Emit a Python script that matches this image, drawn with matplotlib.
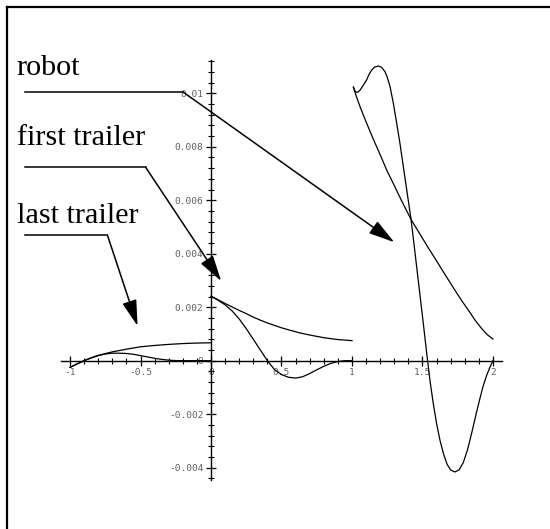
import matplotlib
matplotlib.use("Agg")
import matplotlib.pyplot as plt
from matplotlib.lines import Line2D

# deviation curves for each body of the vehicle (s on x, offset on y)
robot_x_a = [1.010, 1.020, 1.030, 1.042, 1.057, 1.080, 1.104, 1.120, 1.140, 1.160, 1.187,
             1.210, 1.234, 1.250, 1.270, 1.293, 1.317, 1.340, 1.364, 1.390, 1.419,
             1.450, 1.480, 1.506, 1.536, 1.555, 1.577, 1.600, 1.625, 1.650, 1.675,
             1.700, 1.730, 1.760, 1.790, 1.820, 1.850, 1.880, 1.908, 1.930, 1.955,
             1.980, 2.000]
robot_y_a = [0.01023, 0.01010, 0.01004, 0.01004, 0.01012, 0.01030, 0.01050, 0.01070, 0.01087, 0.01098, 0.01102,
             0.01097, 0.01081, 0.01060, 0.01025, 0.00963, 0.00888, 0.00813, 0.00726, 0.00632, 0.00528,
             0.00390, 0.00255, 0.00138, 0.00000, -0.00082, -0.00162, -0.00235, -0.00300, -0.00350, -0.00388,
             -0.00409, -0.00416, -0.00408, -0.00380, -0.00332, -0.00268, -0.00200, -0.00140, -0.00095, -0.00055,
             -0.00022, 0.00000]

robot_x_b = [1.010, 1.030, 1.057, 1.100, 1.150, 1.200, 1.246, 1.300, 1.350, 1.419,
             1.480, 1.540, 1.600, 1.660, 1.720, 1.780, 1.840, 1.872, 1.920, 1.960, 2.000]
robot_y_b = [0.01023, 0.00990, 0.00950, 0.00893, 0.00830, 0.00770, 0.00713, 0.00655, 0.00600, 0.00528,
             0.00475, 0.00423, 0.00373, 0.00322, 0.00272, 0.00223, 0.00178, 0.00152, 0.00120, 0.00097, 0.00081]

first_x_a = [0.0, 0.05, 0.10, 0.15, 0.20, 0.25, 0.30, 0.348, 0.40, 0.45,
             0.50, 0.56, 0.63, 0.70, 0.80, 0.90, 1.0]
first_y_a = [0.00241, 0.00228, 0.00214, 0.00201, 0.00188, 0.00176, 0.00163, 0.00152, 0.00141, 0.00132,
             0.00123, 0.00114, 0.00104, 0.00096, 0.00086, 0.00079, 0.00075]

first_x_b = [0.0, 0.05, 0.10, 0.15, 0.20, 0.25, 0.30, 0.35, 0.40, 0.45, 0.50,
             0.55, 0.60, 0.65, 0.70, 0.75, 0.80, 0.85, 0.90, 0.95, 1.0]
first_y_b = [0.00241, 0.00226, 0.00209, 0.00186, 0.00156, 0.00120, 0.00080, 0.00040, 0.00000, -0.00033, -0.00052,
             -0.00062, -0.00065, -0.00060, -0.00048, -0.00034, -0.00021, -0.00010, -0.00003, 0.00000, 0.00000]

last_x_a = [-1.0, -0.95, -0.90, -0.85, -0.80, -0.74, -0.70, -0.60, -0.50, -0.40,
            -0.30, -0.20, -0.10, 0.0]
last_y_a = [-0.00025, -0.00012, 0.00000, 0.00010, 0.00019, 0.00028, 0.00033, 0.00043, 0.00052, 0.00057,
            0.00061, 0.00064, 0.00066, 0.00067]

last_x_b = [-1.0, -0.95, -0.90, -0.85, -0.80, -0.75, -0.70, -0.65, -0.60, -0.55,
            -0.50, -0.45, -0.40, -0.35, -0.30, -0.25, -0.20, 0.0]
last_y_b = [-0.00025, -0.00012, 0.00000, 0.00011, 0.00020, 0.00025, 0.00028, 0.00028, 0.00027, 0.00024,
            0.00019, 0.00014, 0.00009, 0.00005, 0.00002, 0.000005, 0.00000, 0.00000]

# tick values / labels
x_ticks = [-1, -0.5, 0, 0.5, 1, 1.5, 2]
x_tick_labels = ["-1", "-0.5", "0", "0.5", "1", "1.5", "2"]
y_ticks = [-0.004, -0.002, 0, 0.002, 0.004, 0.006, 0.008, 0.01]
y_tick_labels = ["-0.004", "-0.002", "0", "0.002", "0.004", "0.006", "0.008", "0.01"]

# callout labels: text, text anchor, start of leader, bend, arrow tip
callout_names = ["robot", "first trailer", "last trailer"]
callout_text_xy = [(-1.378, 0.01068), (-1.378, 0.00807), (-1.378, 0.00514)]
callout_start_xy = [(-1.319, 0.01004), (-1.319, 0.00723), (-1.319, 0.00470)]
callout_bend_xy = [(-0.196, 0.01004), (-0.463, 0.00723), (-0.735, 0.00470)]
callout_tip_xy = [(1.300, 0.00443), (0.072, 0.00298), (-0.521, 0.00130)]

fig = plt.figure(figsize=(5.5, 5.29), dpi=100)
ax = fig.add_axes([0, 0, 1, 1])
ax.patch.set_visible(False)
ax.set_xlim(-1.4965, 2.4043)
ax.set_ylim(-0.006294, 0.013489)

curve_kw = dict(color="black", lw=0.9)
for xs, ys in [(robot_x_a, robot_y_a), (robot_x_b, robot_y_b),
               (first_x_a, first_y_a), (first_x_b, first_y_b),
               (last_x_a, last_y_a), (last_x_b, last_y_b)]:
    ax.plot(xs, ys, **curve_kw)

# axes crossing at the origin
for side in ["top", "right"]:
    ax.spines[side].set_visible(False)
ax.spines["left"].set_position("zero")
ax.spines["bottom"].set_position("zero")
ax.spines["left"].set_bounds(-0.00445, 0.01126)
ax.spines["bottom"].set_bounds(-1.065, 2.067)
for side in ["left", "bottom"]:
    ax.spines[side].set_linewidth(1.0)

ax.set_xticks(x_ticks)
ax.set_xticklabels(x_tick_labels)
ax.set_yticks(y_ticks)
ax.set_yticklabels(y_tick_labels)
ax.set_xticks([i / 10 for i in range(-10, 21)], minor=True)
ax.set_yticks([i * 0.0004 for i in range(-11, 29)], minor=True)
ax.tick_params(which="major", direction="inout", length=7, width=0.9,
               labelsize=6.8, labelcolor="#606060", pad=2)
ax.tick_params(which="minor", direction="inout", length=4, width=0.8)
for lab in ax.get_xticklabels() + ax.get_yticklabels():
    lab.set_family("DejaVu Sans Mono")

# callouts with leader lines and arrows
for name, txy, sxy, bxy, pxy in zip(callout_names, callout_text_xy,
                                    callout_start_xy, callout_bend_xy, callout_tip_xy):
    ax.text(txy[0], txy[1], name, family="Liberation Serif", fontsize=21.7,
            ha="left", va="baseline")
    ax.plot([sxy[0], bxy[0]], [sxy[1], bxy[1]], color="black", lw=1.1)
    ax.annotate("", xy=pxy, xytext=bxy,
                arrowprops=dict(arrowstyle="-|>,head_length=1.6,head_width=0.45",
                                mutation_scale=10, lw=1.1, color="black",
                                shrinkA=0, shrinkB=0))

# frame around the page (top and left edges fall inside the image)
fx = 7 / 550
fy = 1 - 6.5 / 529
fig.add_artist(Line2D([fx, 1.0], [fy, fy], transform=fig.transFigure, color="black", lw=1.6))
fig.add_artist(Line2D([fx, fx], [0.0, fy], transform=fig.transFigure, color="black", lw=1.6))

fig.savefig("out.png", dpi=100)
